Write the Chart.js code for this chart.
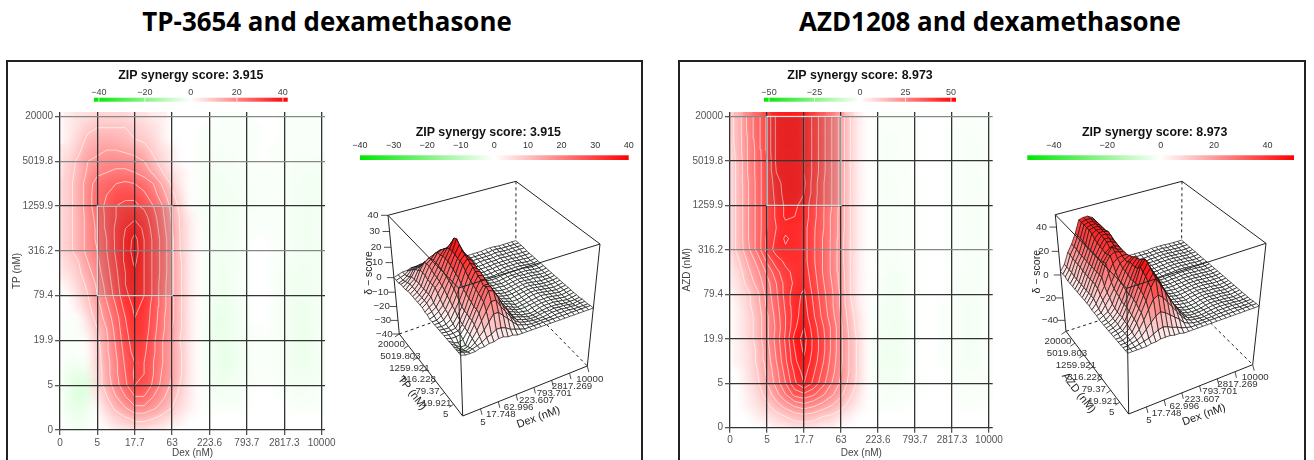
<!DOCTYPE html>
<html>
<head>
<meta charset="utf-8">
<title>ZIP synergy</title>
<script src="https://cdn.jsdelivr.net/npm/chart.js@4"></script>
<style>
  body { margin: 0; background: #fff; overflow: hidden; width: 1314px; height: 460px; position: relative; }
  canvas { position: absolute; }
  .head { position: absolute; top: 3px; text-align: center; font: bold 25.9px "Open Sans", sans-serif; color: #000; white-space: nowrap; }
  .frame { position: absolute; top: 60px; height: 420px; border: 2px solid #222; box-sizing: border-box; }
</style>
</head>
<body>
<div class="head" style="left:27px;width:600px">TP-3654 and dexamethasone</div>
<div class="head" style="left:690px;width:600px">AZD1208 and dexamethasone</div>
<div class="frame" style="left:6px;width:637px"></div>
<div class="frame" style="left:678px;width:628px"></div>
<canvas id="heat1" width="335" height="399" style="left:8px;top:61px"></canvas>
<canvas id="surf1" width="300" height="350" style="left:340px;top:110px"></canvas>
<canvas id="heat2" width="335" height="399" style="left:678px;top:61px"></canvas>
<canvas id="surf2" width="294" height="350" style="left:1010px;top:110px"></canvas>
<script>
const dexTicks = ['0', '5', '17.7', '63', '223.6', '793.7', '2817.3', '10000'];
const drugTicks = ['0', '5', '19.9', '79.4', '316.2', '1259.9', '5019.8', '20000'];
const dexTicks3d = ['5', '17.748', '62.996', '223.607', '793.701', '2817.269', '10000'];
const drugTicks3d = ['5', '19.921', '79.37', '316.228', '1259.921', '5019.803', '20000'];
const zTicks1 = [40, 30, 20, 10, 0, -10, -20, -30, -40];
const zTicks2 = [40, 20, 0, -20, -40];
const barTicks1 = [-40, -20, 0, 20, 40];
const barTicks2 = [-50, -25, 0, 25, 50];
const barTicks1b = [-40, -30, -20, -10, 0, 10, 20, 30, 40];
const barTicks2b = [-40, -20, 0, 20, 40];
const levels1 = [5, 10, 15, 20, 25, 30, 35];
const levels2 = [5, 10, 15, 20, 25, 30, 35, 40, 45];

// delta scores, top row = highest drug dose, left column = Dex 0
const tpScores = [
  [0,1,2,2,3,3,3,3,2,2,1,1,0,0,0,0,0,-.5,-.5,-.5,-.5,0,0,0,-.5,-.5,-.5,-.5,-.5],
  [0,1,2,4,5,5,5,5,4,3,2,1,0,0,0,0,-.5,-.5,-.5,-.5,-.5,-.5,0,0,-.5,-.5,-.5,-.5,-.5],
  [0,1,3,6,7,8,7,6,5,4,3,1,0,0,0,-.5,-.5,-.5,-.5,-.5,-.5,-.5,0,0,-.5,-.5,-.5,-.5,-.5],
  [1,2,4,8,9,10,10,9,8,7,4,2,1,0,0,-.5,-.5,-1,-.5,-.5,-.5,-.5,0,-.5,-.5,-.5,-.5,-.5,-.5],
  [1,3,6,10,11,13,13,13,12,10,6,3,1,0,0,-.5,-.5,-1,-1,-.5,-.5,-.5,0,-.5,-.5,-.5,-1,-1,-1],
  [1,4,6,11,14,15,16,16,15,13,9,5,2,1,0,-.5,-1,-1,-1,-1,-.5,-.5,-.5,-.5,-.5,-1,-1,-1,-1],
  [2,4,7,13,17,19,20,21,20,18,15,9,4,1,0,-.5,-1,-1.5,-1,-1,-.5,-.5,-.5,-.5,-.5,-1,-1,-1.5,-1],
  [2,4,7,13,18,20,23,24,24,21,17,12,6,2,0,-.5,-1,-1.5,-1.5,-1,-1,-.5,-.5,-.5,-.5,-1,-1.5,-1.5,-1],
  [2,4,7,13,18,21,25,26,26,24,20,15,8,3,0,-.5,-1,-1.5,-1.5,-1,-1,-.5,-.5,-.5,-.5,-1,-1.5,-1.5,-1],
  [2,4,7,12,17,21,25,28,29,27,22,16,9,4,1,-.5,-1,-1.5,-1.5,-1,-.5,-.5,-.5,-.5,-.5,-1,-1.5,-1.5,-1],
  [2,4,7,12,16,21,26,30,33,29,23,17,10,4,1,0,-1,-1.5,-1.5,-1,-.5,-.5,-.5,-.5,-.5,-1,-1.5,-1.5,-1],
  [2,4,7,12,16,20,26,31,37,30,24,18,11,4,1,0,-1,-1,-1.5,-1,-.5,0,0,-.5,-.5,-1,-1.5,-1.5,-1],
  [2,4,7,12,15,20,26,31,38,30,24,18,11,4,1,0,-1,-1,-1.5,-1,-.5,0,0,-.5,-.5,-1,-1.5,-1.5,-1],
  [1,3,5,10,14,19,25,31,36,30,24,18,11,5,1,0,-1,-1.5,-1.5,-1,-.5,0,0,-.5,-.5,-1,-1.5,-1.5,-1],
  [1,2,4,8,13,18,24,30,34,30,24,18,11,5,1,0,-1,-1.5,-1.5,-1,-.5,0,0,-.5,-1,-1.5,-1.5,-1.5,-1],
  [0,1,3,6,11,17,23,30,33,30,24,17,11,5,1,0,-1,-1.5,-1.5,-1,-.5,0,0,-.5,-1,-1.5,-1.5,-1.5,-1],
  [0,0,2,5,10,16,22,29,32,30,24,17,11,5,1,0,-1,-2,-1.5,-1,-.5,0,0,-.5,-1,-1.5,-1.5,-1.5,-1],
  [0,0,1,4,8,14,20,27,31,29,23,17,11,5,1,0,-1,-2,-2,-1.5,-.5,0,0,-.5,-1,-1.5,-2,-1.5,-1],
  [0,-.5,0,2,7,12,18,25,30,28,23,16,11,5,1,0,-1,-2.5,-2,-1.5,-.5,0,0,-.5,-1,-1.5,-2,-1.5,-1],
  [0,-.5,-.5,1,5,10,17,24,29,28,22,16,10,5,1,0,-1.5,-2.5,-2,-1.5,-1,-.5,0,-.5,-1,-1.5,-2,-1.5,-1],
  [0,-.5,-.5,0,4,9,16,23,28,27,21,15,10,4,1,0,-1.5,-2,-2,-1.5,-1,-.5,-.5,-.5,-1,-1.5,-2,-1.5,-1],
  [0,-.5,-.5,0,3,9,15,22,27,26,21,15,10,5,1,0,-1.5,-2,-2.5,-1.5,-1,-.5,-.5,-.5,-1,-1.5,-2,-1.5,-1],
  [0,-1,-1,-.5,3,8,14,21,25,25,20,15,10,5,1,0,-1.5,-2,-2.5,-2,-1,-.5,-.5,-.5,-1,-1.5,-2,-1.5,-1],
  [0,-2,-3,-2,2,8,14,20,26,25,20,14,10,5,1,0,-1,-2,-2,-1.5,-1,-.5,-.5,-.5,-1,-1.5,-1.5,-1.5,-1],
  [0,-2,-4,-4,2,7,13,19,25,24,19,13,9,4,1,0,-1,-1.5,-1.5,-1,-.5,-.5,0,-.5,-.5,-1,-1.5,-1,-.5],
  [0,-2,-4,-3,1,5,10,15,20,20,15,11,7,3,1,0,-.5,-1,-1,-1,-.5,0,0,0,-.5,-.5,-1,-.5,-.5],
  [0,-2,-3,-2,0,3,6,10,14,14,11,8,5,2,1,0,-.5,-.5,-.5,-.5,-.5,0,0,0,0,-.5,-.5,-.5,-.5],
  [0,-1,-2,-1,0,1,3,4,6,6,5,3,2,1,0,0,0,0,0,0,0,0,0,0,0,0,0,0,0],
  [0,-1,-1,-1,0,0,1,1,2,2,1,1,0,0,0,0,0,0,0,0,0,0,0,0,0,0,0,0,0]
];
const azdScores = [
  [3,8,17,23,31,41,42,42,40,34,27,20,13,5,1,0,-.5,-.5,-.5,-.5,-.5,0,0,0,0,-.5,-.5,-.5,-.5],
  [3,8,17,23,31,41,42,42,40,34,27,20,13,5,1,0,-.5,-.5,-.5,-.5,-.5,0,0,0,-.5,-.5,-.5,-.5,-.5],
  [3,8,16,23,31,41,42,42,40,34,27,20,13,5,1,0,-.5,-1,-1,-.5,-.5,0,0,0,-.5,-.5,-1,-.5,-.5],
  [2,8,16,22,31,41,42,42,40,34,27,20,13,5,1,0,-.5,-1,-1,-.5,-.5,0,0,0,-.5,-.5,-1,-1,-.5],
  [2,7,16,22,30,41,42,42,40,34,27,20,13,5,1,0,-.5,-1,-.5,-.5,-.5,0,0,0,-.5,-.5,-1,-1,-.5],
  [2,7,16,22,30,40,42,42,40,34,27,20,13,5,1,0,-.5,-1,-.5,-.5,0,0,0,0,-.5,-.5,-1,-.5,-.5],
  [2,7,15,22,30,38,42,42,41,33,26,20,13,5,1,0,-.5,-1,-1,-.5,-.5,0,0,0,-.5,-.5,-1,-1,-.5],
  [2,7,15,22,30,37,42,42,40,33,26,20,13,5,1,0,-.5,-1,-1,-.5,-.5,0,0,0,-.5,-.5,-1,-1,-.5],
  [2,7,15,22,30,36,41,41,38,32,26,20,13,5,1,0,-.5,-1,-1,-.5,-.5,0,0,0,-.5,-.5,-1,-1,-.5],
  [2,7,15,22,30,36,41,40,38,32,26,19,13,5,1,0,-.5,-1,-1,-.5,-.5,0,0,0,-.5,-.5,-1,-1,-.5],
  [2,7,15,22,30,35,38,39,37,31,26,19,13,5,1,0,-.5,-1,-1,-.5,-.5,0,0,0,-.5,-.5,-1,-1,-.5],
  [2,7,15,22,31,36,41,38,37,31,25,19,12,5,1,0,-.5,-1,-1,-.5,-.5,0,0,0,-.5,-.5,-1,-1,-.5],
  [2,7,14,22,32,37,39,38,37,31,25,19,12,5,1,0,-.5,-1,-1,-.5,-.5,0,0,0,-.5,-.5,-1,-1,-.5],
  [1,5,11,17,26,33,36,37,37,31,25,19,12,5,1,0,-.5,-1,-1,-.5,-.5,0,0,0,-.5,-.5,-1,-1,-.5],
  [1,3,9,14,21,28,34,36,38,32,25,19,13,5,1,0,-.5,-1,-1.5,-1,-.5,0,0,0,-.5,-.5,-1,-1,-.5],
  [1,2,7,12,18,25,32,36,39,33,26,20,13,5,1,0,-.5,-1.5,-1.5,-1,-.5,0,0,0,-.5,-1,-1,-1,-.5],
  [0,2,4,9,17,24,32,38,41,34,27,21,14,5,1,0,-.5,-1.5,-1.5,-1,-.5,0,0,0,-.5,-1,-1,-1,-.5],
  [0,1,4,8,16,23,31,38,42,35,28,21,14,6,1,0,-1,-1.5,-2,-1,-.5,0,0,-.5,-.5,-1,-1.5,-1,-.5],
  [0,1,3,7,14,22,30,38,43,36,29,22,15,7,2,0,-1,-1.5,-2,-1,-.5,0,0,-.5,-.5,-1,-1.5,-1,-.5],
  [0,1,3,7,14,21,30,39,45,38,31,24,16,8,2,0,-1,-1.5,-2,-1.5,-.5,0,0,-.5,-.5,-1,-1.5,-1,-.5],
  [0,1,3,7,14,22,31,42,47,39,32,24,16,9,3,0,-1.5,-2,-2,-1.5,-.5,0,0,-.5,-.5,-1,-1.5,-1,-.5],
  [0,1,2,6,13,21,30,40,46,39,32,24,16,9,3,0,-1.5,-2,-2,-1.5,-.5,0,0,-.5,-.5,-1,-1.5,-1,-.5],
  [0,1,2,6,12,20,29,39,44,38,31,23,16,9,3,0,-1.5,-2,-2,-1.5,-.5,0,0,-.5,-.5,-1,-1.5,-1,-.5],
  [0,0,2,5,11,18,27,36,42,36,29,22,15,9,3,0,-1.5,-1.5,-1.5,-1,-.5,0,0,0,-.5,-1,-1,-1,-.5],
  [0,0,2,4,10,17,25,34,40,34,27,20,14,8,3,0,-1,-1.5,-1.5,-1,-.5,0,0,0,-.5,-.5,-1,-1,-.5],
  [0,0,1,3,7,13,20,27,29,26,21,16,11,6,2,0,-.5,-1,-1,-.5,-.5,0,0,0,0,-.5,-.5,-.5,-.5],
  [0,0,1,2,4,8,12,16,18,16,13,10,7,3,1,0,-.5,-.5,-.5,-.5,0,0,0,0,0,-.5,-.5,-.5,0],
  [0,0,0,1,2,3,5,7,8,7,5,4,2,1,0,0,0,0,0,0,0,0,0,0,0,0,0,0,0],
  [0,0,0,0,0,1,1,2,2,2,1,1,0,0,0,0,0,0,0,0,0,0,0,0,0,0,0,0,0]
];

const N = 28;
const FONT = '"Liberation Sans", Arial, sans-serif';
const score = (t, i, j) => t[N - j][i];

function scoreColor(v, range, gamma) {
  const f = Math.pow(Math.min(1, Math.abs(v) / range), v < 0 ? gamma * 1.25 : gamma);
  const c = Math.round(255 * (1 - f));
  return v >= 0 ? `rgb(255,${c},${c})` : `rgb(${c},255,${c})`;
}

function text(ctx, str, x, y, font, color, rot) {
  ctx.save();
  ctx.font = font;
  ctx.fillStyle = color;
  ctx.textAlign = 'center';
  ctx.textBaseline = 'middle';
  ctx.translate(x, y);
  if (rot) ctx.rotate(rot * Math.PI / 180);
  ctx.fillText(str, 0, 0);
  ctx.restore();
}

function colorBar(ctx, b) {
  const zero = (b.x0 + b.x1) / 2;
  const g = ctx.createLinearGradient(b.x0, 0, b.x1, 0);
  g.addColorStop(0, '#00e600');
  g.addColorStop(0.5, '#ffffff');
  g.addColorStop(1, '#ff0000');
  ctx.fillStyle = g;
  ctx.fillRect(b.x0, b.y, b.x1 - b.x0, b.h);
  b.ticks.forEach(t => {
    const x = zero + t * b.unit;
    text(ctx, String(t).replace('-', '\u2212'), x, b.y - b.gap, '9px ' + FONT, b.color, 0);
    if (b.mark) {
      ctx.fillStyle = 'rgba(255,255,255,.8)';
      ctx.fillRect(x - 0.5, b.y, 1, b.h);
    }
  });
  text(ctx, b.title, b.titleX, b.titleY, 'bold 12.4px ' + FONT, '#111', 0);
}

// marching squares over the score table, in dose index units
function contourPoints(t, level) {
  const pts = [];
  const cross = (i0, j0, i1, j1) => {
    const a = score(t, i0, j0), b = score(t, i1, j1);
    if ((a >= level) === (b >= level)) return null;
    const f = (level - a) / (b - a);
    return { x: (i0 + (i1 - i0) * f) / 4, y: (j0 + (j1 - j0) * f) / 4 };
  };
  for (let j = 0; j < N; j++) {
    for (let i = 0; i < N; i++) {
      const c = [cross(i, j, i + 1, j), cross(i + 1, j, i + 1, j + 1), cross(i + 1, j + 1, i, j + 1), cross(i, j + 1, i, j)].filter(Boolean);
      for (let k = 0; k + 1 < c.length; k += 2) pts.push(c[k], c[k + 1], { x: NaN, y: NaN });
    }
  }
  return pts;
}

function heatChart(id, p) {
  const cells = [], colors = [];
  for (let j = 0; j <= N; j++) {
    for (let i = 0; i <= N; i++) {
      cells.push({ x: i / 4, y: j / 4 });
      colors.push(scoreColor(score(p.scores, i, j), p.range, 0.7));
    }
  }
  const datasets = p.levels.map(l => ({
    data: contourPoints(p.scores, l), showLine: true, pointRadius: 0,
    borderColor: 'rgba(255,255,255,.6)', borderWidth: 1
  }));
  datasets.push({ data: cells, pointStyle: 'rect', pointRadius: 8, pointBorderWidth: 0, pointBackgroundColor: colors, showLine: false });

  const softenCells = {
    id: 'softenCells',
    afterDatasetDraw(chart, args) {
      if (args.index !== datasets.length - 1) return;
      const a = chart.chartArea, ctx = chart.ctx;
      ctx.save();
      ctx.beginPath();
      ctx.rect(a.left, a.top, a.width, a.height);
      ctx.clip();
      ctx.filter = 'blur(5px)';
      ctx.drawImage(ctx.canvas, a.left, a.top, a.width, a.height, a.left, a.top, a.width, a.height);
      ctx.restore();
    }
  };
  const extras = {
    id: 'extras',
    afterDraw(chart) {
      const ctx = chart.ctx, x = chart.scales.x, y = chart.scales.y;
      const x0 = x.getPixelForValue(p.box[0]), x1 = x.getPixelForValue(p.box[1]);
      const y0 = y.getPixelForValue(p.box[2]), y1 = y.getPixelForValue(p.box[3]);
      ctx.fillStyle = 'rgba(70,70,70,.13)';
      ctx.fillRect(x0, y1, x1 - x0, y0 - y1);
      ctx.strokeStyle = 'rgba(235,235,235,.9)';
      ctx.lineWidth = 1.2;
      ctx.strokeRect(x0, y1, x1 - x0, y0 - y1);
      colorBar(ctx, p.bar);
    }
  };
  const tickFont = { family: FONT, size: 10 };
  return new Chart(document.getElementById(id), {
    type: 'scatter',
    data: { datasets },
    plugins: [softenCells, extras],
    options: {
      responsive: false, animation: false, events: [],
      layout: { padding: { left: 0, right: p.padRight, top: 51, bottom: 0 } },
      plugins: { legend: { display: false }, tooltip: { enabled: false } },
      scales: {
        x: {
          type: 'linear', min: 0, max: p.xMax,
          afterBuildTicks: s => { s.ticks = dexTicks.map((_, v) => ({ value: v })); },
          afterFit: s => { s.height = p.xAxisH; },
          ticks: { callback: v => dexTicks[v], font: tickFont, color: '#555', padding: 2, maxRotation: 0, autoSkip: false },
          grid: { color: '#333', lineWidth: 1.3, tickLength: 5, tickColor: '#555', z: 1 },
          border: { display: false },
          title: { display: true, text: 'Dex (nM)', font: tickFont, color: '#444', padding: { top: 0, bottom: 1 } }
        },
        y: {
          type: 'linear', min: 0, max: 7.1,
          afterBuildTicks: s => { s.ticks = drugTicks.map((_, v) => ({ value: v })); },
          afterFit: s => { s.width = 52; },
          ticks: { callback: v => drugTicks[v], font: tickFont, color: '#555', padding: 2, autoSkip: false },
          grid: { color: c => p.softRows.includes(c.tick.value) ? '#888' : '#333', lineWidth: 1.3, tickLength: 5, tickColor: '#555', z: 1 },
          border: { display: false },
          title: { display: true, text: p.drug + ' (nM)', font: tickFont, color: '#444', padding: { top: 3, bottom: 0 } }
        }
      }
    }
  });
}

function surfaceChart(id, p) {
  const W = document.getElementById(id).width, H = document.getElementById(id).height;
  const project = (u, v, z) => {
    const s = (p.zMax - z) / (2 * p.zMax);
    const t = s * p.k / (1 + s * (p.k - 1));
    const out = { x: 0, y: 0 };
    ['x', 'y'].forEach((a, n) => {
      const top = (1 - u) * (1 - v) * p.top.F[n] + u * (1 - v) * p.top.R[n] + (1 - u) * v * p.top.L[n] + u * v * p.top.B[n];
      const bot = (1 - u) * (1 - v) * p.bot.F[n] + u * (1 - v) * p.bot.R[n] + (1 - u) * v * p.bot.L[n] + u * v * p.bot.B[n];
      out[a] = top + (bot - top) * t;
    });
    return out;
  };
  const corner = (q, n) => ({ x: q[n][0], y: q[n][1] });
  const solid = (pts) => ({ data: pts, showLine: true, pointRadius: 0, borderColor: '#222', borderWidth: 1 });
  const dashed = (pts) => ({ data: pts, showLine: true, pointRadius: 0, borderColor: '#222', borderWidth: 1, borderDash: [3, 3] });

  // front to back, the first dataset is painted last
  const facets = [];
  for (let sum = 0; sum <= 2 * (N - 1); sum++) {
    for (let i = 0; i < N; i++) {
      const j = sum - i;
      if (j < 0 || j >= N) continue;
      const idx = [[i, j], [i + 1, j], [i + 1, j + 1], [i, j + 1]];
      const zs = idx.map(c => score(p.scores, c[0], c[1]));
      const pts = idx.map((c, n) => project(c[0] / N, c[1] / N, zs[n]));
      pts.push(pts[0]);
      const avg = zs.reduce((a, b) => a + b, 0) / 4;
      facets.push({
        data: pts, showLine: true, pointRadius: 0, fill: 'shape', tension: 0,
        backgroundColor: scoreColor(avg, p.zMax * 0.95, 1),
        borderColor: 'rgba(15,15,15,.9)', borderWidth: 0.75
      });
    }
  }
  const datasets = [
    solid([corner(p.top, 'L'), corner(p.top, 'F'), corner(p.top, 'R')]),
    solid([corner(p.top, 'F'), corner(p.bot, 'F')]),
    ...facets,
    solid([corner(p.top, 'L'), corner(p.top, 'B'), corner(p.top, 'R')]),
    solid([corner(p.top, 'L'), corner(p.bot, 'L'), corner(p.bot, 'F'), corner(p.bot, 'R'), corner(p.top, 'R')]),
    dashed([corner(p.top, 'B'), corner(p.bot, 'B')]),
    dashed([corner(p.bot, 'L'), corner(p.bot, 'B'), corner(p.bot, 'R')])
  ];
  const labels = {
    id: 'labels',
    afterDraw(chart) {
      const ctx = chart.ctx, sx = chart.scales.x, sy = chart.scales.y;
      const px = q => [sx.getPixelForValue(q.x), sy.getPixelForValue(q.y)];
      const tick = (a, b) => {
        ctx.strokeStyle = '#222';
        ctx.lineWidth = 0.8;
        ctx.beginPath();
        ctx.moveTo(a[0], a[1]);
        ctx.lineTo(b[0], b[1]);
        ctx.stroke();
      };
      const font = '9.7px ' + FONT;
      p.zTicks.forEach(z => {
        const [x, y] = px(project(0, 1, z));
        tick([x, y], [x - 7, y]);
        text(ctx, String(z).replace('-', '\u2212'), x - 15, y, font, '#333', 0);
      });
      dexTicks3d.forEach((l, n) => {
        const [x, y] = px(project((n + 1) / 7, 0, -p.zMax));
        tick([x, y], [x + 1.5, y + 6]);
        text(ctx, l, x + 2.5, y + 13, font, '#333', 0);
      });
      drugTicks3d.forEach((l, n) => {
        const [x, y] = px(project(0, (n + 1) / 7, -p.zMax));
        tick([x, y], [x - 4.5, y + 3]);
        text(ctx, l, x - 8, y + 10.5, font, '#333', 0);
      });
      text(ctx, '\u03b4 \u2212 score', p.zTitle[0], p.zTitle[1], '10.5px ' + FONT, '#222', -90);
      text(ctx, 'Dex (nM)', p.dexTitle[0], p.dexTitle[1], '11px ' + FONT, '#222', -20);
      text(ctx, p.drug + ' (nM)', p.drugTitle[0], p.drugTitle[1], '11px ' + FONT, '#222', 52);
      colorBar(ctx, p.bar);
    }
  };
  return new Chart(document.getElementById(id), {
    type: 'scatter',
    data: { datasets },
    plugins: [labels],
    options: {
      responsive: false, animation: false, events: [],
      layout: { padding: 0 },
      plugins: { legend: { display: false }, tooltip: { enabled: false }, filler: { propagate: false } },
      scales: {
        x: { type: 'linear', display: false, min: 0, max: W },
        y: { type: 'linear', display: false, min: 0, max: H, reverse: true }
      }
    }
  });
}

heatChart('heat1', {
  scores: tpScores, levels: levels1, range: 40, drug: 'TP', xMax: 7.09, xAxisH: 30, padRight: 18,
  softRows: [4, 6, 7], box: [1, 3, 3, 5],
  bar: { x0: 86, x1: 279.7, y: 36.7, h: 4, unit: 2.3, ticks: barTicks1, gap: 5.5, color: '#444', mark: true, title: 'ZIP synergy score: 3.915', titleX: 182.8, titleY: 15 }
});
surfaceChart('surf1', {
  scores: tpScores, zMax: 40, k: 1.105, drug: 'TP', zTicks: zTicks1,
  top: { F: [118.5, 178], R: [260, 134], L: [48, 105.3], B: [176, 71.3] },
  bot: { F: [122.7, 306], R: [247.3, 256], L: [59.3, 224], B: [175.7, 183] },
  zTitle: [29.3, 163], dexTitle: [198.5, 307.5], drugTitle: [72, 283],
  bar: { x0: 20, x1: 288.7, y: 45.3, h: 4.7, unit: 3.36, ticks: barTicks1b, gap: 10, color: '#333', mark: false, title: 'ZIP synergy score: 3.915', titleX: 148.3, titleY: 22.5 }
});
heatChart('heat2', {
  scores: azdScores, levels: levels2, range: 50, drug: 'AZD', xMax: 7.1, xAxisH: 32.3, padRight: 20.3,
  softRows: [4, 7], box: [1, 3, 5, 7],
  bar: { x0: 86, x1: 278, y: 36.7, h: 4, unit: 1.82, ticks: barTicks2, gap: 5.5, color: '#444', mark: true, title: 'ZIP synergy score: 8.973', titleX: 182, titleY: 15 }
});
surfaceChart('surf2', {
  scores: azdScores, zMax: 50, k: 1.07, drug: 'AZD', zTicks: zTicks2,
  top: { F: [116.7, 178.3], R: [256, 133.3], L: [45.3, 104.7], B: [172, 71.3] },
  bot: { F: [118.7, 304], R: [242.7, 254.7], L: [56, 221.3], B: [171.3, 184] },
  zTitle: [26.7, 161.7], dexTitle: [194, 305], drugTitle: [68.5, 283],
  bar: { x0: 17.3, x1: 284, y: 45.3, h: 4.7, unit: 2.67, ticks: barTicks2b, gap: 10, color: '#333', mark: false, title: 'ZIP synergy score: 8.973', titleX: 144.7, titleY: 22.5 }
});
</script>
</body>
</html>
